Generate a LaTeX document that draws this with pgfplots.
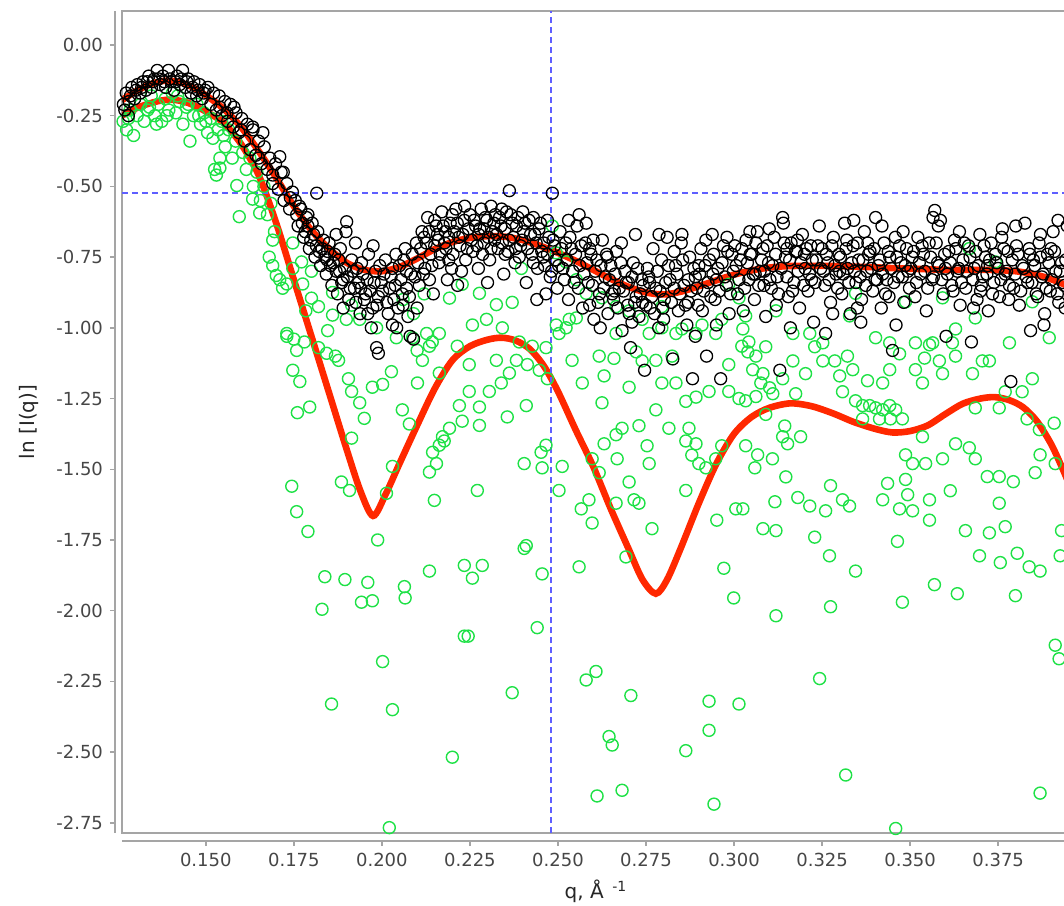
\documentclass[border=0pt]{standalone}
\usepackage{fontspec}
\setmainfont{DejaVu Sans}
\usepackage{pgfplots}
\pgfplotsset{compat=1.18}
\definecolor{fitred}{RGB}{255,40,0}
\definecolor{ptgreen}{RGB}{30,225,70}
\definecolor{xhairblue}{RGB}{95,95,255}
\definecolor{axgray}{RGB}{165,165,165}
\definecolor{tickgray}{RGB}{70,70,70}
\begin{document}
\begin{tikzpicture}
\begin{axis}[
  scale only axis, width=474pt, height=411pt,
  xmin=0.1262, xmax=0.3954, ymin=-2.786, ymax=0.1201,
  axis x line*=bottom, axis y line*=left,
  axis x line shift=4pt, axis y line shift=3.5pt,
  axis line style={draw=axgray, line width=0.9pt, -},
  axis background/.style={draw=axgray, line width=0.9pt},
  tick align=outside, major tick length=2.5pt,
  tick style={axgray, line width=0.7pt},
  xtick={0.150,0.175,0.200,0.225,0.250,0.275,0.300,0.325,0.350,0.375},
  ytick={-2.75,-2.5,-2.25,-2,-1.75,-1.5,-1.25,-1,-0.75,-0.5,-0.25,0},
  scaled x ticks=false, scaled y ticks=false,
  /pgf/number format/assume math mode=true,
  x tick label style={/pgf/number format/.cd, fixed, fixed zerofill, precision=3},
  y tick label style={/pgf/number format/.cd, fixed, fixed zerofill, precision=2},
  tick label style={font=\fontsize{9}{10}\selectfont, text=tickgray},
  label style={font=\fontsize{10}{12}\selectfont, text=black!85},
  xlabel={q, Å \textsuperscript{\,-1}},
  ylabel={ln [I(q)]},
  ylabel style={yshift=2pt},
]
\coordinate (SW) at (rel axis cs:0,0);
% green points
\addplot[only marks, mark=o, mark size=3pt, draw=ptgreen, mark options={line width=0.7pt}] coordinates {
(0.1265,-0.27) (0.1275,-0.30) (0.1285,-0.23) (0.1295,-0.32) (0.1305,-0.25) (0.1315,-0.21) (0.1325,-0.27) (0.1335,-0.23) (0.1345,-0.18) (0.1355,-0.25) (0.1365,-0.21) (0.1375,-0.27) (0.1385,-0.19) (0.1395,-0.23) (0.1405,-0.17) (0.1415,-0.24) (0.1425,-0.20) (0.1435,-0.28) (0.1445,-0.22) (0.1455,-0.34) (0.1465,-0.25) (0.1475,-0.21) (0.1485,-0.28) (0.1495,-0.24) (0.1505,-0.31) (0.1515,-0.26) (0.1525,-0.44) (0.1535,-0.30) (0.1545,-0.27) (0.1555,-0.36) (0.1565,-0.30) (0.1575,-0.40) (0.1585,-0.34) (0.1595,-0.607) (0.1605,-0.38) (0.1615,-0.44) (0.1625,-0.40) (0.1635,-0.50) (0.1645,-0.45) (0.1655,-0.55) (0.1665,-0.50) (0.1675,-0.60) (0.1685,-0.56) (0.1695,-0.66) (0.1280,-0.26) (0.1340,-0.22) (0.1360,-0.28) (0.1390,-0.25) (0.1420,-0.18) (0.1450,-0.21) (0.1480,-0.25) (0.1500,-0.27) (0.1520,-0.33) (0.1550,-0.32) (0.1530,-0.46) (0.1540,-0.40)
(0.1540,-0.435) (0.1588,-0.497) (0.1633,-0.545) (0.1653,-0.594) (0.1690,-0.69) (0.1747,-0.70) (0.1772,-0.767)
(0.1690,-0.78) (0.1700,-0.815) (0.1718,-0.86) (0.1730,-1.02) (0.1747,-1.15) (0.1767,-1.19) (0.1760,-1.30) (0.1795,-1.28) (0.1744,-1.56) (0.1758,-1.65) (0.1790,-1.72) (0.1838,-1.88) (0.1895,-1.89) (0.1960,-1.90) (0.1830,-1.995) (0.1942,-1.97) (0.1973,-1.965) (0.2064,-1.915) (0.2066,-1.955) (0.2135,-1.86) (0.1988,-1.75) (0.2002,-2.18) (0.1857,-2.33) (0.2030,-2.35) (0.2021,-2.767)
(0.1730,-1.03) (0.1750,-1.04) (0.1780,-1.05) (0.1846,-1.01) (0.1820,-1.07) (0.1868,-1.10) (0.1877,-1.115) (0.1905,-1.18) (0.1914,-1.225) (0.1937,-1.265) (0.1950,-1.32) (0.1973,-1.21) (0.2002,-1.20) (0.2027,-1.155) (0.2058,-1.29) (0.1914,-1.39) (0.1885,-1.545) (0.1908,-1.575) (0.2030,-1.49) (0.2013,-1.585) (0.2078,-1.34) (0.2101,-1.195) (0.2115,-1.115) (0.1820,-0.925) (0.1860,-0.955) (0.1899,-0.97) (0.1937,-0.97) (0.1800,-0.895) (0.1784,-0.94) (0.1914,-0.92) (0.1985,-1.00) (0.2041,-1.035) (0.2087,-1.035) (0.2127,-1.02) (0.2143,-1.05) (0.1843,-1.09) (0.1758,-1.08) (0.1710,-0.83) (0.1730,-0.845) (0.1775,-0.845) (0.1800,-0.80) (0.1747,-0.79) (0.1860,-0.875) (0.1680,-0.75)
(0.2060,-0.90) (0.2090,-0.95) (0.2120,-0.88) (0.2100,-1.08)
(0.2200,-2.518) (0.2234,-2.09) (0.2245,-2.09) (0.2234,-1.84) (0.2257,-1.885) (0.2285,-1.84) (0.2149,-1.61) (0.2271,-1.575) (0.2370,-2.29) (0.2441,-2.06) (0.2455,-1.87) (0.2404,-1.78) (0.2410,-1.77) (0.2404,-1.48) (0.2455,-1.495) (0.2466,-1.415) (0.2452,-1.44) (0.2512,-1.49) (0.2503,-1.575) (0.2356,-1.315) (0.2410,-1.275) (0.2277,-1.345) (0.2228,-1.33) (0.2192,-1.355) (0.2172,-1.385) (0.2155,-1.48) (0.2135,-1.51) (0.2144,-1.44) (0.2163,-1.415) (0.2177,-1.40) (0.2220,-1.275) (0.2248,-1.225) (0.2277,-1.28) (0.2305,-1.225) (0.2339,-1.195) (0.2362,-1.16) (0.2413,-1.13) (0.2447,-1.15) (0.2470,-1.18) (0.2466,-1.07) (0.2503,-1.02) (0.2532,-0.97) (0.2552,-0.965) (0.2523,-1.00) (0.2192,-0.895) (0.2228,-0.846) (0.2277,-0.878) (0.2325,-0.918) (0.2370,-0.91) (0.2257,-0.99) (0.2297,-0.97) (0.2342,-1.00) (0.2163,-1.02) (0.2135,-1.065) (0.2214,-1.065) (0.2382,-1.115) (0.2163,-1.16) (0.2248,-1.13) (0.2325,-1.115) (0.2427,-1.065) (0.2390,-1.05) (0.2484,-0.64) (0.2495,-0.99) (0.2540,-1.115) (0.2569,-1.195) (0.2396,-0.79)
(0.2588,-1.608) (0.2566,-1.64) (0.2597,-1.69) (0.2560,-1.845) (0.2580,-2.245) (0.2608,-2.215) (0.2645,-2.445) (0.2654,-2.475) (0.2611,-2.655) (0.2682,-2.635) (0.2707,-2.30) (0.2665,-1.62) (0.2693,-1.81) (0.2716,-1.608) (0.2730,-1.62) (0.2702,-1.545) (0.2759,-1.48) (0.2767,-1.71) (0.2753,-1.417) (0.2730,-1.346) (0.2665,-1.378) (0.2631,-1.41) (0.2668,-1.463) (0.2702,-1.21) (0.2625,-1.265) (0.2597,-1.463) (0.2617,-1.512) (0.2631,-1.17) (0.2659,-1.108) (0.2617,-1.10) (0.2665,-1.02) (0.2722,-1.085) (0.2759,-1.02) (0.2795,-1.195) (0.2835,-1.195) (0.2863,-1.26) (0.2892,-1.245) (0.2929,-1.225) (0.2863,-1.40) (0.2880,-1.45) (0.2900,-1.48) (0.2920,-1.495) (0.2948,-1.463) (0.2965,-1.417) (0.2863,-1.575) (0.3005,-1.64) (0.2951,-1.68) (0.2971,-1.85) (0.2999,-1.955) (0.2863,-2.495) (0.2929,-2.32) (0.2929,-2.423) (0.2943,-2.684) (0.3014,-2.33) (0.2824,-1.10) (0.2778,-1.115) (0.2795,-1.00) (0.2835,-1.02) (0.2892,-1.02) (0.2948,-1.02) (0.2985,-1.13) (0.3022,-1.065) (0.3042,-1.05) (0.2872,-1.355) (0.2892,-1.41) (0.3014,-1.25) (0.2985,-1.225) (0.2778,-1.29) (0.2815,-1.355) (0.2739,-1.117) (0.2682,-1.355)
(0.2495,-0.735) (0.2523,-0.767) (0.2552,-0.83) (0.2580,-0.878) (0.2625,-0.894) (0.2665,-0.925) (0.2702,-0.94) (0.2739,-0.97) (0.2795,-0.925) (0.2852,-1.004) (0.2909,-0.99) (0.2965,-0.97) (0.3014,-0.894) (0.2985,-0.846)
(0.3025,-1.004) (0.3039,-1.085) (0.3090,-1.067) (0.3053,-1.148) (0.3076,-1.195) (0.3101,-1.212) (0.3033,-1.258) (0.3062,-1.243) (0.3090,-1.306) (0.3033,-1.417) (0.3067,-1.449) (0.3059,-1.495) (0.3109,-1.463) (0.3138,-1.385) (0.3152,-1.41) (0.3144,-1.347) (0.3189,-1.385) (0.3147,-1.527) (0.3116,-1.615) (0.3025,-1.64) (0.3082,-1.71) (0.3119,-1.717) (0.3181,-1.60) (0.3215,-1.63) (0.3229,-1.74) (0.3260,-1.647) (0.3274,-1.558) (0.3308,-1.608) (0.3328,-1.63) (0.3271,-1.806) (0.3345,-1.86) (0.3274,-1.986) (0.3119,-2.018) (0.3243,-2.24) (0.3317,-2.581) (0.3459,-2.77) (0.3478,-1.97) (0.3464,-1.755) (0.3422,-1.608) (0.3436,-1.55) (0.3470,-1.64) (0.3493,-1.59) (0.3507,-1.647) (0.3487,-1.536) (0.3555,-1.608) (0.3555,-1.68) (0.3569,-1.908) (0.3634,-1.94) (0.3614,-1.576) (0.3657,-1.717) (0.3697,-1.806) (0.3725,-1.725) (0.3753,-1.62) (0.3770,-1.703) (0.3756,-1.83) (0.3799,-1.947) (0.3804,-1.797) (0.3838,-1.845) (0.3869,-1.86) (0.3869,-2.645) (0.3912,-2.122) (0.3923,-2.17) (0.3926,-1.806) (0.3930,-1.717)
(0.3062,-1.10) (0.3082,-1.162) (0.3110,-1.233) (0.3138,-1.18) (0.3167,-1.117) (0.3175,-1.233) (0.3203,-1.162) (0.3229,-1.067) (0.3252,-1.117) (0.3286,-1.117) (0.3300,-1.17) (0.3322,-1.10) (0.3337,-1.148) (0.3308,-1.226) (0.3345,-1.258) (0.3365,-1.275) (0.3385,-1.275) (0.3402,-1.283) (0.3422,-1.29) (0.3442,-1.275) (0.3459,-1.29) (0.3478,-1.322) (0.3365,-1.322) (0.3413,-1.322) (0.3444,-1.322) (0.3379,-1.187) (0.3422,-1.195) (0.3442,-1.148) (0.3470,-1.092) (0.3515,-1.148) (0.3535,-1.195) (0.3541,-1.107) (0.3555,-1.06) (0.3583,-1.117) (0.3592,-1.162) (0.3620,-1.053) (0.3629,-1.10) (0.3677,-1.162) (0.3705,-1.117) (0.3725,-1.117) (0.3685,-1.283) (0.3753,-1.283) (0.3770,-1.226) (0.3818,-1.226) (0.3832,-1.322) (0.3847,-1.18) (0.3867,-1.36) (0.3869,-1.449) (0.3909,-1.337) (0.3912,-1.48) (0.3855,-1.512) (0.3793,-1.544) (0.3753,-1.526) (0.3719,-1.526) (0.3685,-1.463) (0.3668,-1.424) (0.3629,-1.41) (0.3592,-1.463) (0.3544,-1.48) (0.3507,-1.48) (0.3487,-1.449) (0.3535,-1.385)
(0.3033,-0.958) (0.3119,-0.94) (0.3167,-1.02) (0.3215,-1.02) (0.3252,-1.053) (0.3328,-0.958) (0.3402,-1.035) (0.3442,-1.053) (0.3515,-1.053) (0.3564,-1.053) (0.3629,-1.004) (0.3685,-0.965) (0.3782,-1.053) (0.3895,-1.035) (0.3668,-0.72) (0.3742,-0.767) (0.3345,-0.878) (0.3487,-0.908) (0.3592,-0.894) (0.3847,-0.908)
};
% black points
\addplot[only marks, mark=o, mark size=3pt, draw=black, mark options={line width=0.65pt}] coordinates {
(0.1266,-0.21) (0.1274,-0.17) (0.1282,-0.20) (0.1290,-0.15) (0.1298,-0.19) (0.1306,-0.14) (0.1314,-0.17) (0.1322,-0.13) (0.1330,-0.16) (0.1338,-0.11) (0.1346,-0.15) (0.1354,-0.12) (0.1362,-0.09) (0.1370,-0.14) (0.1378,-0.11) (0.1386,-0.15) (0.1394,-0.09) (0.1402,-0.13) (0.1410,-0.16) (0.1418,-0.11) (0.1426,-0.14) (0.1434,-0.09) (0.1442,-0.15) (0.1450,-0.12) (0.1458,-0.17) (0.1466,-0.13) (0.1474,-0.18) (0.1482,-0.14) (0.1490,-0.19) (0.1498,-0.16)
(0.1270,-0.23) (0.1286,-0.18) (0.1302,-0.16) (0.1318,-0.15) (0.1334,-0.13) (0.1350,-0.13) (0.1366,-0.12) (0.1382,-0.13) (0.1398,-0.12) (0.1414,-0.13) (0.1430,-0.12) (0.1446,-0.13) (0.1462,-0.15) (0.1478,-0.16) (0.1494,-0.17) (0.1280,-0.25)
(0.1506,-0.15) (0.1514,-0.21) (0.1522,-0.17) (0.1530,-0.23) (0.1538,-0.18) (0.1546,-0.25) (0.1554,-0.20) (0.1562,-0.27) (0.1570,-0.21) (0.1578,-0.29) (0.1586,-0.24) (0.1594,-0.31) (0.1602,-0.26) (0.1610,-0.34) (0.1618,-0.28) (0.1626,-0.37) (0.1634,-0.30) (0.1642,-0.39) (0.1650,-0.34) (0.1658,-0.42) (0.1666,-0.36) (0.1674,-0.44) (0.1682,-0.40) (0.1690,-0.49) (0.1698,-0.42) (0.1706,-0.51) (0.1714,-0.45) (0.1722,-0.55) (0.1730,-0.49) (0.1738,-0.58) (0.1746,-0.52)
(0.1633,-0.29) (0.1662,-0.31) (0.1710,-0.395) (0.1720,-0.45) (0.1580,-0.22) (0.1600,-0.30) (0.1650,-0.40) (0.1690,-0.46) (0.1740,-0.54) (0.1540,-0.22) (0.1560,-0.24)
(0.1754,-0.55) (0.1762,-0.64) (0.1770,-0.58) (0.1778,-0.68) (0.1786,-0.61) (0.1794,-0.72) (0.1802,-0.63) (0.1810,-0.75) (0.1818,-0.66) (0.1826,-0.78) (0.1834,-0.69) (0.1842,-0.81) (0.1850,-0.70) (0.1858,-0.85) (0.1866,-0.74) (0.1874,-0.88) (0.1882,-0.72) (0.1890,-0.83) (0.1898,-0.66) (0.1906,-0.90) (0.1914,-0.76) (0.1922,-0.86) (0.1930,-0.79) (0.1938,-0.95) (0.1946,-0.81) (0.1954,-0.88) (0.1962,-0.74) (0.1970,-1.00) (0.1978,-0.84) (0.1986,-0.92) (0.1994,-0.78)
(0.1790,-0.60) (0.1815,-0.524) (0.1870,-0.67) (0.1900,-0.625) (0.1925,-0.70) (0.1960,-0.95) (0.1985,-1.07) (0.1990,-1.09) (0.1890,-0.93) (0.1940,-0.86) (0.1845,-0.76) (0.1880,-0.80) (0.1975,-0.71)
(0.1758,-0.60) (0.1766,-0.57) (0.1774,-0.63) (0.1782,-0.66) (0.1790,-0.64) (0.1798,-0.69) (0.1806,-0.67) (0.1814,-0.71) (0.1822,-0.73) (0.1830,-0.72) (0.1838,-0.75) (0.1846,-0.73) (0.1854,-0.78) (0.1862,-0.77) (0.1870,-0.80) (0.1878,-0.76) (0.1886,-0.84) (0.1894,-0.79) (0.1902,-0.82) (0.1910,-0.86) (0.1918,-0.80) (0.1926,-0.91) (0.1934,-0.84) (0.1942,-0.77) (0.1950,-0.90) (0.1958,-0.83) (0.1966,-0.87) (0.1974,-0.93) (0.1982,-0.80) (0.1990,-0.89) (0.1998,-0.84)
(0.2002,-0.87) (0.2010,-0.76) (0.2018,-0.95) (0.2026,-0.82) (0.2034,-0.90) (0.2042,-1.00) (0.2050,-0.78) (0.2058,-0.88) (0.2066,-0.72) (0.2074,-0.96) (0.2082,-0.81) (0.2090,-1.04) (0.2098,-0.70) (0.2106,-0.85) (0.2114,-0.66) (0.2122,-0.79) (0.2130,-0.61) (0.2138,-0.74) (0.2146,-0.88) (0.2154,-0.64) (0.2162,-0.77) (0.2170,-0.59) (0.2178,-0.70) (0.2186,-0.83) (0.2194,-0.63) (0.2202,-0.74) (0.2210,-0.58) (0.2218,-0.68) (0.2226,-0.80) (0.2234,-0.62) (0.2242,-0.72)
(0.2040,-0.74) (0.2070,-0.86) (0.2100,-0.93) (0.2120,-0.68) (0.2080,-1.03) (0.2030,-0.99) (0.2135,-0.83) (0.2160,-0.69) (0.2190,-0.76) (0.2200,-0.60) (0.2235,-0.57) (0.2215,-0.85) (0.2060,-0.92) (0.2150,-0.62) (0.2180,-0.66)
(0.2006,-0.81) (0.2014,-0.91) (0.2022,-0.86) (0.2030,-0.79) (0.2038,-0.85) (0.2046,-0.93) (0.2054,-0.83) (0.2062,-0.76) (0.2070,-0.80) (0.2078,-0.89) (0.2086,-0.74) (0.2094,-0.82) (0.2102,-0.77) (0.2110,-0.72) (0.2118,-0.81) (0.2126,-0.70) (0.2134,-0.66) (0.2142,-0.78) (0.2150,-0.71) (0.2158,-0.67) (0.2166,-0.74) (0.2174,-0.64) (0.2182,-0.72) (0.2190,-0.68) (0.2198,-0.79) (0.2206,-0.66) (0.2214,-0.63) (0.2222,-0.71) (0.2230,-0.67) (0.2238,-0.76) (0.2246,-0.65)
(0.2250,-0.60) (0.2258,-0.73) (0.2266,-0.64) (0.2274,-0.79) (0.2282,-0.58) (0.2290,-0.70) (0.2298,-0.62) (0.2306,-0.76) (0.2314,-0.66) (0.2322,-0.60) (0.2330,-0.72) (0.2338,-0.64) (0.2346,-0.81) (0.2354,-0.59) (0.2362,-0.69) (0.2370,-0.63) (0.2378,-0.77) (0.2386,-0.61) (0.2394,-0.71) (0.2402,-0.66) (0.2410,-0.84) (0.2418,-0.62) (0.2426,-0.74) (0.2434,-0.67) (0.2442,-0.79) (0.2450,-0.63) (0.2458,-0.75) (0.2466,-0.88) (0.2474,-0.68) (0.2482,-0.80) (0.2490,-0.71) (0.2498,-0.86)
(0.2362,-0.515) (0.2484,-0.524) (0.2275,-0.67) (0.2300,-0.84) (0.2320,-0.69) (0.2340,-0.58) (0.2380,-0.72) (0.2400,-0.59) (0.2430,-0.61) (0.2460,-0.70) (0.2470,-0.62) (0.2440,-0.90) (0.2310,-0.57) (0.2290,-0.65) (0.2350,-0.74)
(0.2254,-0.69) (0.2262,-0.62) (0.2270,-0.71) (0.2278,-0.65) (0.2286,-0.74) (0.2294,-0.61) (0.2302,-0.68) (0.2310,-0.72) (0.2318,-0.63) (0.2326,-0.67) (0.2334,-0.61) (0.2342,-0.70) (0.2350,-0.65) (0.2358,-0.73) (0.2366,-0.60) (0.2374,-0.68) (0.2382,-0.64) (0.2390,-0.75) (0.2398,-0.69) (0.2406,-0.63) (0.2414,-0.72) (0.2422,-0.67) (0.2430,-0.77) (0.2438,-0.70) (0.2446,-0.65) (0.2454,-0.73) (0.2462,-0.78) (0.2470,-0.74) (0.2478,-0.82) (0.2486,-0.69) (0.2494,-0.76)
(0.2506,-0.66) (0.2514,-0.79) (0.2522,-0.70) (0.2530,-0.90) (0.2538,-0.72) (0.2546,-0.84) (0.2554,-0.64) (0.2562,-0.78) (0.2570,-0.93) (0.2578,-0.70) (0.2586,-0.84) (0.2594,-0.74) (0.2602,-0.97) (0.2610,-0.76) (0.2618,-0.88) (0.2626,-0.69) (0.2634,-0.82) (0.2642,-0.95) (0.2650,-0.78) (0.2658,-0.90) (0.2666,-0.73) (0.2674,-0.86) (0.2682,-1.01) (0.2690,-0.80) (0.2698,-0.92) (0.2706,-1.07) (0.2714,-0.77) (0.2722,-0.89) (0.2730,-0.96) (0.2738,-0.83) (0.2746,-1.15)
(0.2560,-0.60) (0.2600,-0.69) (0.2640,-0.75) (0.2590,-0.92) (0.2680,-0.70) (0.2720,-0.67) (0.2700,-0.84) (0.2740,-0.91) (0.2530,-0.62) (0.2620,-1.00) (0.2660,-0.87) (0.2580,-0.63) (0.2710,-0.98)
(0.2502,-0.78) (0.2510,-0.72) (0.2518,-0.83) (0.2526,-0.76) (0.2534,-0.68) (0.2542,-0.80) (0.2550,-0.74) (0.2558,-0.86) (0.2566,-0.71) (0.2574,-0.81) (0.2582,-0.77) (0.2590,-0.72) (0.2598,-0.85) (0.2606,-0.80) (0.2614,-0.91) (0.2622,-0.78) (0.2630,-0.86) (0.2638,-0.74) (0.2646,-0.83) (0.2654,-0.88) (0.2662,-0.81) (0.2670,-0.93) (0.2678,-0.77) (0.2686,-0.87) (0.2694,-0.84) (0.2702,-0.95) (0.2710,-0.82) (0.2718,-0.91) (0.2726,-0.79) (0.2734,-0.88) (0.2742,-0.85)
(0.2754,-0.79) (0.2762,-0.93) (0.2770,-0.72) (0.2778,-0.86) (0.2786,-1.00) (0.2794,-0.76) (0.2802,-0.90) (0.2810,-0.68) (0.2818,-0.83) (0.2826,-1.11) (0.2834,-0.78) (0.2842,-0.94) (0.2850,-0.70) (0.2858,-0.85) (0.2866,-0.99) (0.2874,-0.75) (0.2882,-1.18) (0.2890,-0.82) (0.2898,-0.92) (0.2906,-0.72) (0.2914,-0.87) (0.2922,-1.10) (0.2930,-0.76) (0.2938,-0.67) (0.2946,-0.90) (0.2954,-0.79) (0.2962,-1.18) (0.2970,-0.71) (0.2978,-0.85) (0.2986,-0.95) (0.2994,-0.74)
(0.2787,-0.67) (0.2852,-0.67) (0.2800,-0.97) (0.2830,-0.73) (0.2870,-0.91) (0.2900,-0.78) (0.2920,-0.69) (0.2950,-0.99) (0.2980,-0.68) (0.2760,-0.84) (0.2890,-1.03) (0.2940,-0.81)
(0.2750,-0.92) (0.2758,-0.82) (0.2766,-0.89) (0.2774,-0.95) (0.2782,-0.80) (0.2790,-0.87) (0.2798,-0.93) (0.2806,-0.84) (0.2814,-0.78) (0.2822,-0.91) (0.2830,-0.86) (0.2838,-0.81) (0.2846,-0.88) (0.2854,-0.76) (0.2862,-0.92) (0.2870,-0.83) (0.2878,-0.87) (0.2886,-0.79) (0.2894,-0.86) (0.2902,-0.81) (0.2910,-0.94) (0.2918,-0.78) (0.2926,-0.84) (0.2934,-0.89) (0.2942,-0.74) (0.2950,-0.83) (0.2958,-0.87) (0.2966,-0.77) (0.2974,-0.82) (0.2982,-0.73) (0.2990,-0.88) (0.2998,-0.80)
(0.3002,-0.71) (0.3010,-0.88) (0.3018,-0.76) (0.3026,-0.94) (0.3034,-0.69) (0.3042,-0.83) (0.3050,-0.74) (0.3058,-0.90) (0.3066,-0.66) (0.3074,-0.80) (0.3082,-0.72) (0.3090,-0.96) (0.3098,-0.77) (0.3106,-0.86) (0.3114,-0.68) (0.3122,-0.82) (0.3130,-1.15) (0.3138,-0.61) (0.3146,-0.75) (0.3154,-0.89) (0.3162,-0.70) (0.3170,-0.84) (0.3178,-0.73) (0.3186,-0.93) (0.3194,-0.67) (0.3202,-0.79) (0.3210,-0.87) (0.3218,-0.71) (0.3226,-0.98) (0.3234,-0.76) (0.3242,-0.64)
(0.3060,-0.81) (0.3100,-0.65) (0.3120,-0.92) (0.3140,-0.63) (0.3160,-1.00) (0.3180,-0.69) (0.3200,-0.74) (0.3220,-0.83) (0.3045,-0.66) (0.3085,-0.85) (0.3260,-1.02) (0.3150,-0.72)
(0.3006,-0.78) (0.3014,-0.83) (0.3022,-0.72) (0.3030,-0.86) (0.3038,-0.77) (0.3046,-0.74) (0.3054,-0.81) (0.3062,-0.70) (0.3070,-0.85) (0.3078,-0.76) (0.3086,-0.80) (0.3094,-0.71) (0.3102,-0.83) (0.3110,-0.78) (0.3118,-0.74) (0.3126,-0.88) (0.3134,-0.79) (0.3142,-0.70) (0.3150,-0.82) (0.3158,-0.76) (0.3166,-0.87) (0.3174,-0.73) (0.3182,-0.80) (0.3190,-0.77) (0.3198,-0.85) (0.3206,-0.72) (0.3214,-0.81) (0.3222,-0.76) (0.3230,-0.84) (0.3238,-0.71) (0.3246,-0.79)
(0.3250,-0.72) (0.3258,-0.85) (0.3266,-0.77) (0.3274,-0.91) (0.3282,-0.68) (0.3290,-0.81) (0.3298,-0.74) (0.3306,-0.88) (0.3314,-0.63) (0.3322,-0.79) (0.3330,-0.95) (0.3338,-0.71) (0.3346,-0.84) (0.3354,-0.76) (0.3362,-0.90) (0.3370,-0.66) (0.3378,-0.80) (0.3386,-0.73) (0.3394,-0.87) (0.3402,-0.61) (0.3410,-0.78) (0.3418,-0.93) (0.3426,-0.70) (0.3434,-0.83) (0.3442,-0.75) (0.3450,-1.08) (0.3458,-0.68) (0.3466,-0.82) (0.3474,-0.77) (0.3482,-0.91) (0.3490,-0.72) (0.3498,-0.86)
(0.3280,-0.95) (0.3320,-0.69) (0.3340,-0.62) (0.3360,-0.98) (0.3380,-0.70) (0.3400,-0.83) (0.3420,-0.64) (0.3440,-0.89) (0.3460,-0.99) (0.3480,-0.66) (0.3300,-0.80) (0.3350,-0.93)
(0.3254,-0.80) (0.3262,-0.74) (0.3270,-0.83) (0.3278,-0.71) (0.3286,-0.78) (0.3294,-0.86) (0.3302,-0.75) (0.3310,-0.81) (0.3318,-0.72) (0.3326,-0.84) (0.3334,-0.77) (0.3342,-0.80) (0.3350,-0.70) (0.3358,-0.82) (0.3366,-0.76) (0.3374,-0.85) (0.3382,-0.74) (0.3390,-0.79) (0.3398,-0.72) (0.3406,-0.83) (0.3414,-0.76) (0.3422,-0.81) (0.3430,-0.88) (0.3438,-0.73) (0.3446,-0.79) (0.3454,-0.84) (0.3462,-0.75) (0.3470,-0.71) (0.3478,-0.82) (0.3486,-0.78) (0.3494,-0.80)
(0.3506,-0.75) (0.3514,-0.89) (0.3522,-0.68) (0.3530,-0.81) (0.3538,-0.74) (0.3546,-0.94) (0.3554,-0.70) (0.3562,-0.83) (0.3570,-0.585) (0.3578,-0.77) (0.3586,-0.62) (0.3594,-0.88) (0.3602,-1.03) (0.3610,-0.73) (0.3618,-0.85) (0.3626,-0.69) (0.3634,-0.80) (0.3642,-0.92) (0.3650,-0.76) (0.3658,-0.86) (0.3666,-0.71) (0.3674,-1.05) (0.3682,-0.79) (0.3690,-0.90) (0.3698,-0.67) (0.3706,-0.82) (0.3714,-0.75) (0.3722,-0.94) (0.3730,-0.70) (0.3738,-0.84) (0.3746,-0.77) (0.3754,-0.89) (0.3762,-0.65) (0.3770,-0.81) (0.3778,-0.73) (0.3786,-1.19) (0.3794,-0.86) (0.3802,-0.71) (0.3810,-0.92) (0.3818,-0.78) (0.3826,-0.63) (0.3834,-0.84) (0.3842,-1.01) (0.3850,-0.76) (0.3858,-0.88) (0.3866,-0.70) (0.3874,-0.82) (0.3882,-0.95) (0.3890,-0.74) (0.3898,-0.87) (0.3906,-0.66) (0.3914,-0.80) (0.3922,-0.91) (0.3930,-0.77) (0.3938,-0.85) (0.3946,-0.64)
(0.3565,-0.61) (0.3580,-0.64) (0.3600,-0.79) (0.3640,-0.66) (0.3700,-0.87) (0.3760,-0.68) (0.3800,-0.64) (0.3840,-0.74) (0.3870,-0.67) (0.3900,-0.72) (0.3920,-0.62) (0.3720,-0.78) (0.3680,-0.93) (0.3780,-0.90) (0.3880,-0.99) (0.3940,-0.93)
(0.3502,-0.79) (0.3510,-0.73) (0.3518,-0.84) (0.3526,-0.77) (0.3534,-0.71) (0.3542,-0.80) (0.3550,-0.86) (0.3558,-0.75) (0.3566,-0.82) (0.3574,-0.70) (0.3582,-0.78) (0.3590,-0.83) (0.3598,-0.74) (0.3606,-0.81) (0.3614,-0.77) (0.3622,-0.87) (0.3630,-0.72) (0.3638,-0.79) (0.3646,-0.84) (0.3654,-0.70) (0.3662,-0.80) (0.3670,-0.75) (0.3678,-0.83) (0.3686,-0.73) (0.3694,-0.78) (0.3702,-0.85) (0.3710,-0.71) (0.3718,-0.81) (0.3726,-0.76) (0.3734,-0.88) (0.3742,-0.74) (0.3750,-0.79) (0.3758,-0.83) (0.3766,-0.72) (0.3774,-0.80) (0.3782,-0.85) (0.3790,-0.76) (0.3798,-0.81) (0.3806,-0.74) (0.3814,-0.87) (0.3822,-0.79) (0.3830,-0.82) (0.3838,-0.72) (0.3846,-0.84) (0.3854,-0.78) (0.3862,-0.89) (0.3870,-0.75) (0.3878,-0.81) (0.3886,-0.86) (0.3894,-0.77) (0.3902,-0.83) (0.3910,-0.73) (0.3918,-0.88) (0.3926,-0.80) (0.3934,-0.84) (0.3942,-0.76)
};
% fits
\addplot[fitred, line width=3.3pt, smooth, no marks] coordinates {
(0.1262,-0.195) (0.130,-0.165) (0.134,-0.14) (0.138,-0.127) (0.142,-0.13) (0.146,-0.148) (0.150,-0.178) (0.155,-0.225) (0.160,-0.29) (0.165,-0.375) (0.170,-0.47) (0.175,-0.57) (0.180,-0.655) (0.185,-0.72) (0.190,-0.77) (0.195,-0.795) (0.200,-0.80) (0.205,-0.785) (0.210,-0.755) (0.215,-0.722) (0.220,-0.697) (0.225,-0.682) (0.230,-0.676) (0.235,-0.678) (0.240,-0.69) (0.245,-0.71) (0.250,-0.735) (0.255,-0.763) (0.260,-0.795) (0.265,-0.827) (0.270,-0.855) (0.275,-0.875) (0.280,-0.882) (0.285,-0.872) (0.290,-0.853) (0.295,-0.832) (0.300,-0.812) (0.305,-0.797) (0.310,-0.787) (0.315,-0.782) (0.320,-0.781) (0.325,-0.781) (0.330,-0.782) (0.335,-0.784) (0.340,-0.786) (0.345,-0.789) (0.350,-0.791) (0.355,-0.793) (0.360,-0.795) (0.365,-0.795) (0.370,-0.795) (0.375,-0.796) (0.380,-0.80) (0.385,-0.81) (0.390,-0.828) (0.3954,-0.855)
};
\addplot[fitred, line width=3.3pt, smooth, no marks] coordinates {
(0.1262,-0.25) (0.130,-0.225) (0.135,-0.203) (0.140,-0.193) (0.145,-0.205) (0.150,-0.235) (0.155,-0.275) (0.160,-0.35) (0.165,-0.46) (0.170,-0.63) (0.175,-0.83) (0.180,-1.03) (0.185,-1.23) (0.190,-1.43) (0.194,-1.58) (0.1975,-1.665) (0.201,-1.59) (0.205,-1.48) (0.210,-1.345) (0.215,-1.215) (0.220,-1.115) (0.225,-1.065) (0.230,-1.042) (0.234,-1.035) (0.238,-1.045) (0.242,-1.075) (0.246,-1.135) (0.250,-1.225) (0.255,-1.36) (0.260,-1.49) (0.265,-1.64) (0.270,-1.78) (0.274,-1.89) (0.2778,-1.94) (0.281,-1.89) (0.285,-1.775) (0.290,-1.62) (0.295,-1.48) (0.300,-1.375) (0.305,-1.315) (0.310,-1.283) (0.316,-1.267) (0.322,-1.277) (0.328,-1.302) (0.334,-1.333) (0.340,-1.357) (0.345,-1.37) (0.350,-1.365) (0.355,-1.345) (0.360,-1.305) (0.365,-1.268) (0.370,-1.25) (0.374,-1.245) (0.378,-1.255) (0.382,-1.28) (0.386,-1.33) (0.390,-1.41) (0.393,-1.49) (0.3954,-1.56)
};
% crosshair on top
\addplot[draw=xhairblue, line width=0.8pt, densely dashed, mark=none] coordinates {(0.24805,-2.786) (0.24805,0.1201)};
\addplot[draw=xhairblue, line width=0.8pt, densely dashed, mark=none] coordinates {(0.1262,-0.524) (0.3954,-0.524)};
\end{axis}
\pgfresetboundingbox
\useasboundingbox ([shift={(-61pt,-36pt)}]SW) rectangle ([shift={(471pt,416.5pt)}]SW);
\end{tikzpicture}
\end{document}
